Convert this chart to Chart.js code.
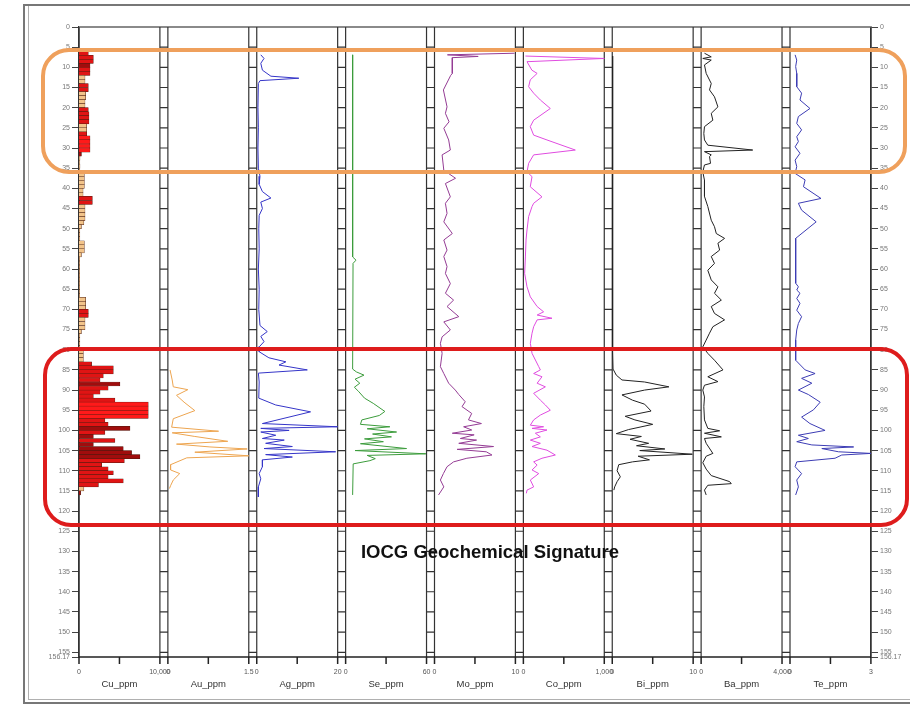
<!DOCTYPE html>
<html>
<head>
<meta charset="utf-8">
<title>IOCG Geochemical Signature</title>
<script src="https://cdn.jsdelivr.net/npm/chart.js@4.4.1/dist/chart.umd.min.js"></script>
<style>
  html, body { margin: 0; padding: 0; background: #fff; }
  #wrap { position: relative; width: 910px; height: 708px; overflow: hidden; }
  #wrap canvas { position: absolute; left: 0; top: 0; }
  .frame { position: absolute; left: 23px; top: 4px; width: 920px; height: 700px; border: 2px solid #777; box-sizing: border-box; }
  .frame2 { position: absolute; left: 28px; top: 6px; width: 920px; height: 694px; border-left: 1px solid #b0b0b0; border-bottom: 1px solid #b0b0b0; box-sizing: border-box; }
  .zone { position: absolute; border: 4px solid; box-sizing: border-box; border-radius: 28px; pointer-events: none; }
  #title { position: absolute; left: 290px; top: 542px; width: 400px; text-align: center;
           font: bold 18.5px "Liberation Sans", Arial, sans-serif; line-height: 20px; color: #111; }
</style>
</head>
<body>
<div id="wrap">
  <div class="frame"></div>
  <div class="frame2"></div>
  <canvas id="log" width="910" height="708"></canvas>
  <div class="zone" style="left:41px;top:47.5px;width:866px;height:126.5px;border-color:#efa05c;"></div>
  <div class="zone" style="left:43px;top:346.5px;width:866px;height:180.5px;border-color:#de1c1c;"></div>
  <div id="title">IOCG Geochemical Signature</div>
</div>
<script>
// === DEPTH AXIS ===
const depthTicks = [0, 5, 10, 15, 20, 25, 30, 35, 40, 45, 50, 55, 60, 65, 70, 75, 80,
  85, 90, 95, 100, 105, 110, 115, 120, 125, 130, 135, 140, 145, 150, 155, 156.17];

// === TRACKS ===
const trackIds = ["cu", "au", "ag", "se", "mo", "co", "bi", "ba", "te"];
const trackNames = ["Cu_ppm", "Au_ppm", "Ag_ppm", "Se_ppm", "Mo_ppm", "Co_ppm", "Bi_ppm", "Ba_ppm", "Te_ppm"];
const trackMax = [10000, 1.5, 20, 60, 10, 1000, 10, 4000, 3];
const trackMinLabels = ["0", "0", "0", "0", "0", "0", "0", "0", "0"];
const trackMaxLabels = ["10,000", "1.5", "20", "60", "10", "1,000", "10", "4,000", "3"];

// Cu: 1 m samples (mid depth), ppm and shade class
const cuMid = [
  6.5, 7.5, 8.5, 9.5, 10.5, 11.5, 12.5, 13.5, 14.5, 15.5,
  16.5, 17.5, 18.5, 19.5, 20.5, 21.5, 22.5, 23.5, 24.5, 25.5,
  26.5, 27.5, 28.5, 29.5, 30.5, 31.5, 32.5, 33.5, 34.5, 35.5,
  36.5, 37.5, 38.5, 39.5, 40.5, 41.5, 42.5, 43.5, 44.5, 45.5,
  46.5, 47.5, 48.5, 49.5, 50.5, 51.5, 52.5, 53.5, 54.5, 55.5,
  56.5, 57.5, 58.5, 59.5, 60.5, 61.5, 62.5, 63.5, 64.5, 65.5,
  66.5, 67.5, 68.5, 69.5, 70.5, 71.5, 72.5, 73.5, 74.5, 75.5,
  76.5, 77.5, 78.5, 79.5, 80.5, 81.5, 82.5, 83.5, 84.5, 85.5,
  86.5, 87.5, 88.5, 89.5, 90.5, 91.5, 92.5, 93.5, 94.5, 95.5,
  96.5, 97.5, 98.5, 99.5, 100.5, 101.5, 102.5, 103.5, 104.5, 105.5,
  106.5, 107.5, 108.5, 109.5, 110.5, 111.5, 112.5, 113.5, 114.5, 115.5
];
const cuPpm = [
  1150, 1770, 1770, 1360, 1360, 1360, 740, 740, 1150, 1150,
  820, 820, 740, 740, 1150, 1230, 1230, 1230, 950, 950,
  950, 1360, 1360, 1360, 1360, 300, 120, 100, 120, 100,
  660, 660, 660, 660, 500, 500, 1650, 1650, 740, 740,
  740, 740, 600, 300, 100, 100, 100, 660, 660, 660,
  300, 80, 80, 80, 80, 80, 80, 80, 80, 80,
  80, 820, 820, 820, 1150, 1150, 740, 740, 740, 300,
  100, 100, 100, 100, 535, 535, 535, 1560, 4240, 4240,
  3000, 2600, 5060, 3600, 2600, 1770, 4440, 8560, 8560, 8560,
  8560, 3200, 3600, 6300, 3200, 1770, 4440, 1770, 5470, 6500,
  7530, 5600, 2800, 3600, 4240, 3600, 5470, 2400, 600, 200
];
const cuShade = (
  "rrrdrrttrr" + "ttttrrrrtt" + "rbbbbdtttt" + "ttttttrrtt" + "tttttttttt" +
  "tttttttttt" + "ttttrrtttt" + "tttttttrrr" + "rrdrrrrbbb" + "brrdrdrddd" + "drrrrrrrtd"
).split("");

// [depth m, value]
const au = [[85.0,0.04],[87.5,0.08],[89.2,0.1],[89.9,0.37],[91.3,0.16],[93.0,0.3],[95.1,0.5],
  [97.1,0.1],[99.2,0.07],[100.2,0.94],[100.6,0.08],[101.5,0.5],[102.7,1.11],[103.4,0.16],
  [104.1,0.78],[104.6,1.47],[105.4,0.5],[106.3,1.5],[106.8,0.35],[108.5,0.05],[109.8,0.05],
  [110.7,0.22],[112.3,0.1],[113.7,0.05],[114.4,0.03]];

const ag = [[6.9,1.0],[7.8,1.8],[9.0,1.0],[10.7,1.4],[12.2,3.5],[12.7,10.4],[13.3,0.8],[14.0,0.4],
  [20,0.3],[25,0.4],[30,0.3],[35,0.4],[37,0.8],[39,0.6],[40.8,1.4],[42.4,3.5],[43.4,1.0],
  [45.0,1.4],[46.7,0.6],[50,0.5],[55,0.6],[60,0.4],[65,0.6],[70,0.5],[74,0.8],[75.5,2.6],
  [76.7,1.0],[78,1.8],[79.2,0.7],[80.5,0.6],[82.0,3.0],[83.0,7.2],[83.8,5.5],[85.0,12.5],
  [85.8,0.4],[88,0.6],[92,0.5],[93.7,4.7],[95.4,13.3],[98.3,1.4],[99.1,20],[99.5,1.0],
  [100.0,8.0],[100.4,1.0],[101.2,4.7],[102.0,1.4],[102.4,6.8],[103.2,2.2],[104.0,8.8],
  [104.5,1.8],[105.3,19.5],[106.0,2.2],[106.6,8.8],[107.3,1.4],[109,1.4],[110.7,0.6],
  [112,1.0],[114,0.4],[116.5,0.4]];

const se = [[6.9,5.2],[57.0,5.2],[57.8,7.7],[58.6,5.5],[84.8,5.2],[85.5,8],[86.3,13.6],[87.3,7],
  [88.3,10.5],[89.3,6.5],[90.3,9.5],[92,14],[93.3,20.5],[95.3,29.1],[96.3,25],[97.4,12],
  [98.5,11],[99.1,32.8],[99.6,16],[100.4,37.8],[100.9,20],[101.6,34],[102.1,14],[102.8,28],
  [103.3,11],[104.5,45.2],[105.0,7],[105.8,59.5],[106.2,16],[107.0,22],[107.5,18],[108.3,5.6],
  [116,5.2]];

const mo = [[6.5,9.9],[6.9,1.6],[7.3,5.4],[7.6,2.2],[11.5,2.2],[12.0,2.0],[15.6,1.1],[19.8,1.55],
  [21.4,1.35],[23.5,1.8],[25.1,1.15],[28.0,1.75],[30.5,1.96],[31.7,0.94],[35.5,1.15],[37.5,2.6],
  [38.8,1.35],[42.1,1.96],[43.7,1.35],[46.2,1.55],[48.3,1.15],[51.2,2.2],[52.8,1.15],[55.3,1.55],
  [56.9,1.15],[59.4,1.55],[61.1,1.35],[63.6,1.96],[66.0,1.35],[67.7,2.36],[69.3,1.55],[71.8,3.0],
  [73.1,1.15],[75.1,1.96],[76.8,0.94],[78.4,0.73],[80.9,0.94],[84.2,0.73],[85.9,1.15],[88.3,1.75],
  [90.0,2.57],[91.1,3.0],[92.9,3.8],[94.1,3.4],[95.8,4.6],[97.4,4.2],[98.3,5.8],[99.1,3.6],
  [99.9,4.6],[100.7,2.2],[101.1,4.9],[102.0,3.2],[102.4,5.2],[103.2,3.0],[104.0,7.3],[104.7,2.8],
  [105.3,6.4],[106.1,7.1],[106.9,4.0],[107.8,2.36],[109.0,1.55],[110.7,1.1],[112.3,0.73],
  [114.0,1.15],[116.0,0.5]];

const co = [[7.2,25],[7.8,1000],[8.6,45],[10.7,105],[11.5,170],[13.1,85],[14.8,65],[16.4,127],
  [18.1,210],[20.2,333],[23.1,127],[24.7,85],[26.8,127],[28.0,292],[30.5,642],[31.7,127],
  [33.8,65],[35.9,45],[37.1,107],[39.6,85],[42.1,230],[43.7,127],[44.5,107],[47.0,65],[50.3,45],
  [52.8,33],[57.0,25],[61.1,16],[64.4,45],[66.9,86],[69.3,170],[70.6,250],[71.4,170],[72.2,354],
  [72.6,170],[74.3,127],[75.9,107],[78.4,86],[80.9,107],[84.2,190],[85.0,210],[85.9,127],
  [86.7,230],[88.3,170],[89.2,272],[90.8,127],[92.5,210],[93.7,272],[95.0,333],[96.2,210],
  [97.4,127],[98.7,86],[99.1,250],[99.5,107],[99.9,292],[100.7,148],[101.6,210],[102.4,86],
  [103.2,210],[104.0,107],[104.9,292],[106.1,395],[106.9,230],[107.8,127],[108.6,170],
  [109.8,107],[110.7,190],[112.3,86],[114.0,127],[114.8,45],[115.6,37]];

const bi = [[7.2,0.05],[20,0.04],[40,0.04],[60,0.05],[70,0.06],[80,0.04],[84.8,0.1],[86.3,0.5],
  [87.5,1.2],[88.0,4.0],[89.2,7.0],[90.0,4.0],[91.2,1.2],[92.5,2.5],[93.5,4.0],[95.2,4.8],
  [96.5,1.6],[97.4,2.8],[98.5,5.0],[99.8,2.0],[100.8,0.5],[101.5,3.6],[102.2,2.2],[103.2,4.5],
  [103.8,3.0],[104.6,6.5],[105.0,3.4],[105.9,9.9],[106.4,3.2],[107.3,4.6],[107.8,2.5],
  [108.5,0.8],[110.0,0.6],[111.5,1.0],[112.7,0.6],[114.0,0.3],[114.8,0.2]];

const ba = [[6.5,166],[7.4,500],[7.8,83],[8.2,500],[9.4,166],[11.5,250],[14.0,500],[15.6,415],
  [17.3,660],[19.8,830],[21.4,500],[23.1,580],[24.7,166],[26.4,133],[28.0,166],[29.3,330],
  [30.5,2550],[30.9,166],[31.7,500],[32.1,415],[33.8,465],[34.2,166],[35.9,83],[38,166],
  [42.0,166],[44.5,330],[47.9,500],[49.5,660],[51.2,750],[52.4,1160],[53.6,830],[55.3,915],
  [56.9,500],[58.6,660],[60.3,330],[62.7,500],[64.4,830],[66.0,660],[67.7,1000],[69.3,500],
  [71.0,660],[72.6,1160],[74.3,580],[75.9,415],[77.6,250],[79.3,83],[80.9,330],[82.6,660],
  [85.0,1080],[86.7,330],[87.9,830],[88.8,166],[90.0,83],[91.7,166],[94.1,133],[97.4,166],
  [99.5,330],[100.1,915],[100.7,166],[101.6,1000],[102.0,166],[103.2,250],[105.7,580],
  [106.4,250],[108.0,83],[109.6,250],[111.2,500],[112.7,1410],[113.2,1490],[113.6,330],
  [114.8,166],[116.0,250]];

const te = [[6.9,0.19],[8.2,0.25],[9.8,0.21],[11.5,0.25],[14.8,0.25],[16.4,0.43],[18.1,0.37],
  [20.2,0.74],[22.2,0.31],[23.9,0.25],[25.5,0.43],[27.2,0.25],[28.4,0.31],[29.7,0.19],
  [31.3,0.37],[33.0,0.19],[34.6,0.25],[36.3,0.19],[37.9,0.56],[39.6,0.5],[42.5,1.15],
  [43.7,0.31],[45.4,0.43],[48.3,0.97],[52.4,0.21],[63.5,0.21],[64.4,0.31],[65.2,0.25],
  [66.0,0.37],[67.3,0.25],[68.5,0.37],[70.2,0.25],[71.8,0.43],[73.5,0.31],[75.1,0.25],
  [77.6,0.21],[82.6,0.21],[85.0,0.56],[85.9,0.93],[87.1,0.43],[88.3,0.81],[90.0,0.31],
  [91.1,0.68],[93.0,1.12],[94.9,0.87],[96.7,0.43],[98.3,0.74],[100.0,1.3],[101.2,0.31],
  [102.0,0.68],[102.8,0.25],[103.6,0.81],[104.1,2.36],[104.5,1.18],[105.3,1.8],[105.7,3.0],
  [106.1,1.92],[106.9,1.67],[107.8,0.25],[109.0,0.19],[110.7,0.43],[112.3,0.25],[114.0,0.31],
  [116.0,0.21]];

// === LAYOUT ===
const PLOT_W = 792;        // chart area width (79 -> 871)
const TRACK_PITCH = 88.875;
const TRACK_W = 80.9;
const shadeColors = { t: "#f2c48a", r: "#e01414", d: "#a00d0d", b: "#ff1a1a" };

Chart.defaults.font.family = '"Liberation Sans", Arial, sans-serif';

const depthAxis = (pos, w) => ({
  type: "linear",
  axis: "y",
  position: pos,
  reverse: true,
  offset: false,
  min: 0,
  max: 156.17,
  afterBuildTicks: s => { s.ticks = depthTicks.map(v => ({ value: v })); },
  afterFit: s => { s.width = w; },
  grid: { offset: false, drawOnChartArea: false, drawTicks: true, tickLength: 7, color: "#444", lineWidth: 1 },
  border: { display: true, color: "#333", width: 1.5 },
  ticks: { autoSkip: false, padding: 2, color: "#777", font: { size: 7 }, callback: v => String(v) }
});

// left axis carries the Cu bars, right axis (same range) carries the curves
const scales = { y: depthAxis("left", 79), y2: depthAxis("right", 39) };
trackIds.forEach((id, i) => {
  const min = -(i * TRACK_PITCH) / TRACK_W * trackMax[i];
  scales[id] = {
    type: "linear", axis: "x", position: "bottom", display: false,
    offset: false, beginAtZero: false, grid: { offset: false },
    min: min, max: min + trackMax[i] * PLOT_W / TRACK_W
  };
});

const lineSet = (id, rows, color) => ({
  type: "line",
  indexAxis: "y",
  xAxisID: id,
  yAxisID: "y2",
  data: rows.map(([d, v]) => ({ x: v, y: d })),
  borderColor: color,
  borderWidth: 1,
  pointRadius: 0,
  fill: false,
  tension: 0
});

// frame: track edges, depth ladders, bottom axis
const logFrame = {
  id: "logFrame",
  beforeDatasetsDraw(chart) {
    const { ctx, chartArea: a, scales: sc } = chart;
    const dy = sc.y;
    ctx.save();
    ctx.strokeStyle = "#8a8a8a";
    ctx.lineWidth = 2;
    ctx.beginPath();
    ctx.moveTo(a.left, a.top);
    ctx.lineTo(a.right, a.top);
    ctx.stroke();

    ctx.strokeStyle = "#333";
    ctx.lineWidth = 1.2;
    ctx.beginPath();
    trackIds.forEach((id, i) => {
      const l = sc[id].getPixelForValue(0);
      const r = sc[id].getPixelForValue(trackMax[i]);
      ctx.moveTo(l, a.top); ctx.lineTo(l, a.bottom);
      ctx.moveTo(r, a.top); ctx.lineTo(r, a.bottom);
      if (i < trackIds.length - 1) {
        const next = sc[trackIds[i + 1]].getPixelForValue(0);
        dy.ticks.forEach(t => {
          if (t.value > 0 && t.value < dy.max) {
            const py = dy.getPixelForValue(t.value);
            ctx.moveTo(r, py); ctx.lineTo(next, py);
          }
        });
      }
    });
    ctx.stroke();
    ctx.restore();
  },
  afterDraw(chart) {
    const { ctx, chartArea: a, scales: sc } = chart;
    ctx.save();
    ctx.strokeStyle = "#222";
    ctx.lineWidth = 1.5;
    ctx.beginPath();
    ctx.moveTo(a.left, a.bottom);
    ctx.lineTo(a.right, a.bottom);
    trackIds.forEach((id, i) => {
      [0, trackMax[i] / 2, trackMax[i]].forEach(v => {
        const px = sc[id].getPixelForValue(v);
        ctx.moveTo(px, a.bottom); ctx.lineTo(px, a.bottom + 7);
      });
    });
    ctx.stroke();

    ctx.textAlign = "center";
    ctx.textBaseline = "middle";
    trackIds.forEach((id, i) => {
      const l = sc[id].getPixelForValue(0);
      const r = sc[id].getPixelForValue(trackMax[i]);
      ctx.fillStyle = "#555";
      ctx.font = '7px "Liberation Sans", Arial, sans-serif';
      ctx.fillText(trackMinLabels[i], l, a.bottom + 15);
      ctx.fillText(trackMaxLabels[i], r, a.bottom + 15);
      ctx.fillStyle = "#333";
      ctx.font = '9.5px "Liberation Sans", Arial, sans-serif';
      ctx.fillText(trackNames[i], (l + r) / 2, a.bottom + 27);
    });
    ctx.restore();
  }
};

new Chart(document.getElementById("log"), {
  type: "bar",
  data: {
    datasets: [
      {
        type: "bar",
        indexAxis: "y",
        xAxisID: "cu",
        yAxisID: "y",
        grouped: false,
        data: cuMid.map((d, i) => ({ x: cuPpm[i], y: d })),
        backgroundColor: cuShade.map(c => shadeColors[c]),
        borderColor: "#4a1c10",
        borderWidth: 0.5,
        barPercentage: 1,
        categoryPercentage: 1
      },
      lineSet("au", au, "#eda550"),
      lineSet("ag", ag, "#3535c8"),
      lineSet("se", se, "#3c9c3c"),
      lineSet("mo", mo, "#943c94"),
      lineSet("co", co, "#e04ce0"),
      lineSet("bi", bi, "#222222"),
      lineSet("ba", ba, "#222222"),
      lineSet("te", te, "#3c3cb4")
    ]
  },
  options: {
    responsive: false,
    animation: false,
    layout: { padding: { left: 0, right: 0, top: 27, bottom: 51 } },
    plugins: { legend: { display: false }, tooltip: { enabled: false } },
    scales: scales
  },
  plugins: [logFrame]
});
</script>
</body>
</html>
